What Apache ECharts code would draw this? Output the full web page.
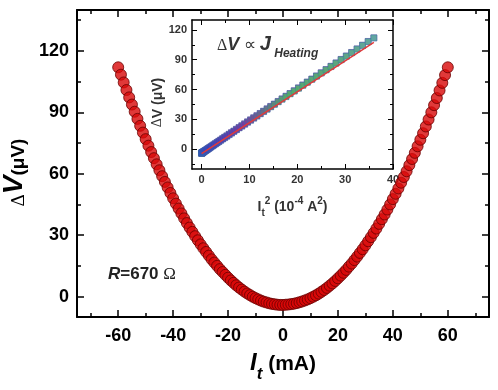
<!DOCTYPE html>
<html>
<head>
<meta charset="utf-8">
<script src="https://cdn.jsdelivr.net/npm/echarts@6/dist/echarts.min.js"></script>
<style>html,body{margin:0;padding:0;background:#fff}#c{width:498px;height:390px}</style>
</head>
<body>
<div id="c"></div>
<script>
// Main data: current I_t (mA) and ΔV (µV)
var currentMA = [-60,-59,-58,-57,-56,-55,-54,-53,-52,-51,-50,-49,-48,-47,-46,-45,-44,-43,-42,-41,-40,-39,-38,-37,-36,-35,-34,-33,-32,-31,-30,-29,-28,-27,-26,-25,-24,-23,-22,-21,-20,-19,-18,-17,-16,-15,-14,-13,-12,-11,-10,-9,-8,-7,-6,-5,-4,-3,-2,-1,0,1,2,3,4,5,6,7,8,9,10,11,12,13,14,15,16,17,18,19,20,21,22,23,24,25,26,27,28,29,30,31,32,33,34,35,36,37,38,39,40,41,42,43,44,45,46,47,48,49,50,51,52,53,54,55,56,57,58,59,60];
var deltaV = [112.0,108.4,104.6,100.9,97.3,93.8,90.3,86.8,83.4,80.1,76.9,73.7,70.6,67.6,64.6,61.7,58.8,56.0,53.3,50.6,48.0,45.4,43.0,40.6,38.2,35.9,33.7,31.6,29.5,27.5,25.5,23.6,21.8,20.0,18.2,16.6,15.0,13.4,12.0,10.6,9.2,7.9,6.7,5.5,4.4,3.4,2.4,1.5,0.7,-0.1,-0.8,-1.4,-2.0,-2.5,-2.9,-3.3,-3.6,-3.8,-4.0,-4.1,-4.1,-4.0,-3.9,-3.7,-3.5,-3.2,-2.8,-2.4,-1.9,-1.4,-0.8,-0.1,0.6,1.4,2.3,3.2,4.2,5.3,6.4,7.6,8.9,10.2,11.6,13.0,14.6,16.1,17.8,19.5,21.3,23.1,25.0,27.0,29.0,31.1,33.2,35.5,37.8,40.1,42.5,45.0,47.6,50.2,52.8,55.6,58.4,61.2,64.2,67.2,70.2,73.4,76.6,79.8,83.1,86.5,90.0,93.5,97.0,100.7,104.4,108.2,112.0];
// Inset linear fit ΔV vs I_t^2 (10^-4 A^2)
var fitX = [0, 36];
var fitY = [-4.5, 107.5];
// Tick values
var mainXTicks = [-60,-40,-20,0,20,40,60];
var mainXMinor = [-70,-50,-30,-10,10,30,50,70];
var mainYTicks = [0,30,60,90,120];
var mainYMinor = [15,45,75,105,135];
var insetXTicks = [0,10,20,30,40];
var insetXMinor = [5,15,25,35];
var insetYTicks = [0,30,60,90,120];
var insetYMinor = [-15,15,45,75,105];

var chart = echarts.init(document.getElementById('c'), null, {renderer:'canvas'});

var mainPts = currentMA.map(function(c,i){return [c, deltaV[i]];});
var insetNeg = [], insetPos = [];
currentMA.forEach(function(c,i){
  var p = [c*c/100, deltaV[i]];
  if (c < 0) insetNeg.push(p); else insetPos.push(p);
});
var fitPts = fitX.map(function(x,i){return [x, fitY[i]];});

var F = 'Liberation Sans, Arial, sans-serif';
var SER = 'Liberation Serif, Times New Roman, serif';

function axis(grid, min, max, pos, ticks, len, tw, lw, label, fs, col, showLine){
  return {
    type:'value', gridIndex:grid, min:min, max:max, position:pos,
    axisLine:{show:showLine, onZero:false, lineStyle:{color:'#000', width:lw}},
    axisTick:{show:true, inside:true, length:len, lineStyle:{color:'#000', width:tw}, customValues:ticks},
    axisLabel:{show:label, margin: fs>14 ? 9 : 5, color:col, fontFamily:F, fontWeight:'bold', fontSize:fs, customValues:ticks},
    splitLine:{show:false}
  };
}

var xMain = axis(0,-75,75,'bottom',mainXTicks,7,1.5,2,true,18,'#000',true);
xMain.axisLabel.margin = 10;
xMain.name = '{i|I}{t|t}{u| (mA)}';
xMain.nameLocation = 'middle'; xMain.nameGap = 34;
xMain.nameTextStyle = {rich:{
  i:{fontFamily:F, fontWeight:'bold', fontStyle:'italic', fontSize:24, color:'#000', verticalAlign:'bottom'},
  t:{fontFamily:F, fontWeight:'bold', fontStyle:'italic', fontSize:17, color:'#000', verticalAlign:'bottom', padding:[0,0,-8,0]},
  u:{fontFamily:F, fontWeight:'bold', fontSize:21, color:'#000', verticalAlign:'bottom'}
}};

var yMain = axis(0,-10,140,'left',mainYTicks,7,1.5,2,true,18,'#000',true);
yMain.axisLabel.margin = 8;
yMain.name = '{d|Δ}{v|V}{u|(μV)}';
yMain.nameLocation = 'middle'; yMain.nameGap = 46; yMain.nameRotate = 90;
yMain.nameTextStyle = {padding:[0,0,0,-18], rich:{
  d:{fontFamily:SER, fontSize:19, color:'#000', verticalAlign:'bottom'},
  v:{fontFamily:F, fontWeight:'bold', fontStyle:'italic', fontSize:28, color:'#000', verticalAlign:'bottom'},
  u:{fontFamily:F, fontWeight:'bold', fontSize:19, color:'#000', verticalAlign:'bottom'}
}};

var xInset = axis(1,-2,40,'bottom',insetXTicks,5,1,1.5,true,11,'#333',true);
xInset.name = '{a|I}{b|t}{c|2}{a| (10}{c|-4}{a| A}{c|2}{a|)}';
xInset.nameLocation = 'middle'; xInset.nameGap = 27;
xInset.nameTextStyle = {rich:{
  a:{fontFamily:F, fontWeight:'bold', fontSize:14, color:'#333', verticalAlign:'bottom'},
  b:{fontFamily:F, fontWeight:'bold', fontSize:10, color:'#333', verticalAlign:'bottom', padding:[0,0,-4,0]},
  c:{fontFamily:F, fontWeight:'bold', fontSize:10, color:'#333', verticalAlign:'top', padding:[0,0,8,0]}
}};

var yInset = axis(1,-20,130,'left',insetYTicks,5,1,1.5,true,11,'#333',true);
yInset.name = '{d|Δ}{v|V (μV)}';
yInset.nameLocation = 'middle'; yInset.nameGap = 18; yInset.nameRotate = 90;
yInset.nameTextStyle = {padding:[0,0,0,-16], rich:{
  d:{fontFamily:SER, fontSize:14, color:'#333'},
  v:{fontFamily:F, fontWeight:'bold', fontSize:14, color:'#333'}
}};

var xAxes = [
  xMain,
  axis(0,-75,75,'top',mainXTicks,7,1.5,2,false,18,'#000',true),
  axis(0,-75,75,'bottom',mainXMinor,4,1.5,2,false,18,'#000',false),
  axis(0,-75,75,'top',mainXMinor,4,1.5,2,false,18,'#000',false),
  xInset,
  axis(1,-2,40,'top',insetXTicks,5,1,1.5,false,11,'#333',true),
  axis(1,-2,40,'bottom',insetXMinor,3,1,1.5,false,11,'#333',false),
  axis(1,-2,40,'top',insetXMinor,3,1,1.5,false,11,'#333',false)
];
var yAxes = [
  yMain,
  axis(0,-10,140,'right',mainYTicks,7,1.5,2,false,18,'#000',true),
  axis(0,-10,140,'left',mainYMinor,4,1.5,2,false,18,'#000',false),
  axis(0,-10,140,'right',mainYMinor,4,1.5,2,false,18,'#000',false),
  yInset,
  axis(1,-20,130,'right',insetYTicks,5,1,1.5,false,11,'#333',true),
  axis(1,-20,130,'left',insetYMinor,3,1,1.5,false,11,'#333',false),
  axis(1,-20,130,'right',insetYMinor,3,1,1.5,false,11,'#333',false)
];

var option = {
  backgroundColor:'#fff',
  animation:false,
  grid:[
    {left:77, top:10, width:412, height:307, show:false, containLabel:false, outerBoundsMode:'none'},
    {left:192, top:20, width:201, height:149, show:true, backgroundColor:'#fff', borderWidth:0, containLabel:false, outerBoundsMode:'none'}
  ],
  xAxis:xAxes,
  yAxis:yAxes,
  visualMap:[{
    type:'continuous', show:false, seriesIndex:[2], dimension:0, min:0, max:36,
    inRange:{color:['#3030c8','#7a3aa0','#4fb860','#52b86a','#5ab89c']}
  }],
  series:[
    {
      type:'scatter', xAxisIndex:0, yAxisIndex:0, data:mainPts,
      symbol:'circle', symbolSize:11,
      itemStyle:{color:'#d80808', borderColor:'#6a0000', borderWidth:1}
    },
    {
      type:'scatter', xAxisIndex:4, yAxisIndex:4, data:insetNeg,
      symbol:'rect', symbolSize:6,
      itemStyle:{color:'#6a3aa8', borderColor:'#402a90', borderWidth:0.6}
    },
    {
      type:'scatter', xAxisIndex:4, yAxisIndex:4, data:insetPos,
      symbol:'rect', symbolSize:6,
      itemStyle:{borderColor:'#3a78a8', borderWidth:0.5}
    },
    {
      type:'line', xAxisIndex:4, yAxisIndex:4, data:fitPts, symbol:'none',
      lineStyle:{color:'#e03a3a', width:1.5}, z:5
    }
  ],
  graphic:[
    {type:'text', left:217, top:34, z:100, style:{
      text:'{d|Δ}{v|V}{p| ∝ }{j|J}{h| Heating}',
      rich:{
        d:{fontFamily:SER, fontSize:16, fill:'#333', verticalAlign:'bottom'},
        v:{fontFamily:F, fontWeight:'bold', fontStyle:'italic', fontSize:18, fill:'#333', verticalAlign:'bottom'},
        p:{fontFamily:SER, fontSize:17, fill:'#333', verticalAlign:'bottom'},
        j:{fontFamily:F, fontWeight:'bold', fontStyle:'italic', fontSize:20, fill:'#333', verticalAlign:'bottom'},
        h:{fontFamily:F, fontWeight:'bold', fontStyle:'italic', fontSize:12, fill:'#333', verticalAlign:'bottom', padding:[0,0,-6,0]}
      }
    }},
    {type:'text', left:108, top:266, z:100, style:{
      text:'{r|R}{e|=670 }{o|Ω}',
      rich:{
        r:{fontFamily:F, fontWeight:'bold', fontStyle:'italic', fontSize:17, fill:'#222'},
        e:{fontFamily:F, fontWeight:'bold', fontSize:17, fill:'#222'},
        o:{fontFamily:SER, fontSize:17, fill:'#222'}
      }
    }}
  ]
};
chart.setOption(option);
</script>
</body>
</html>
